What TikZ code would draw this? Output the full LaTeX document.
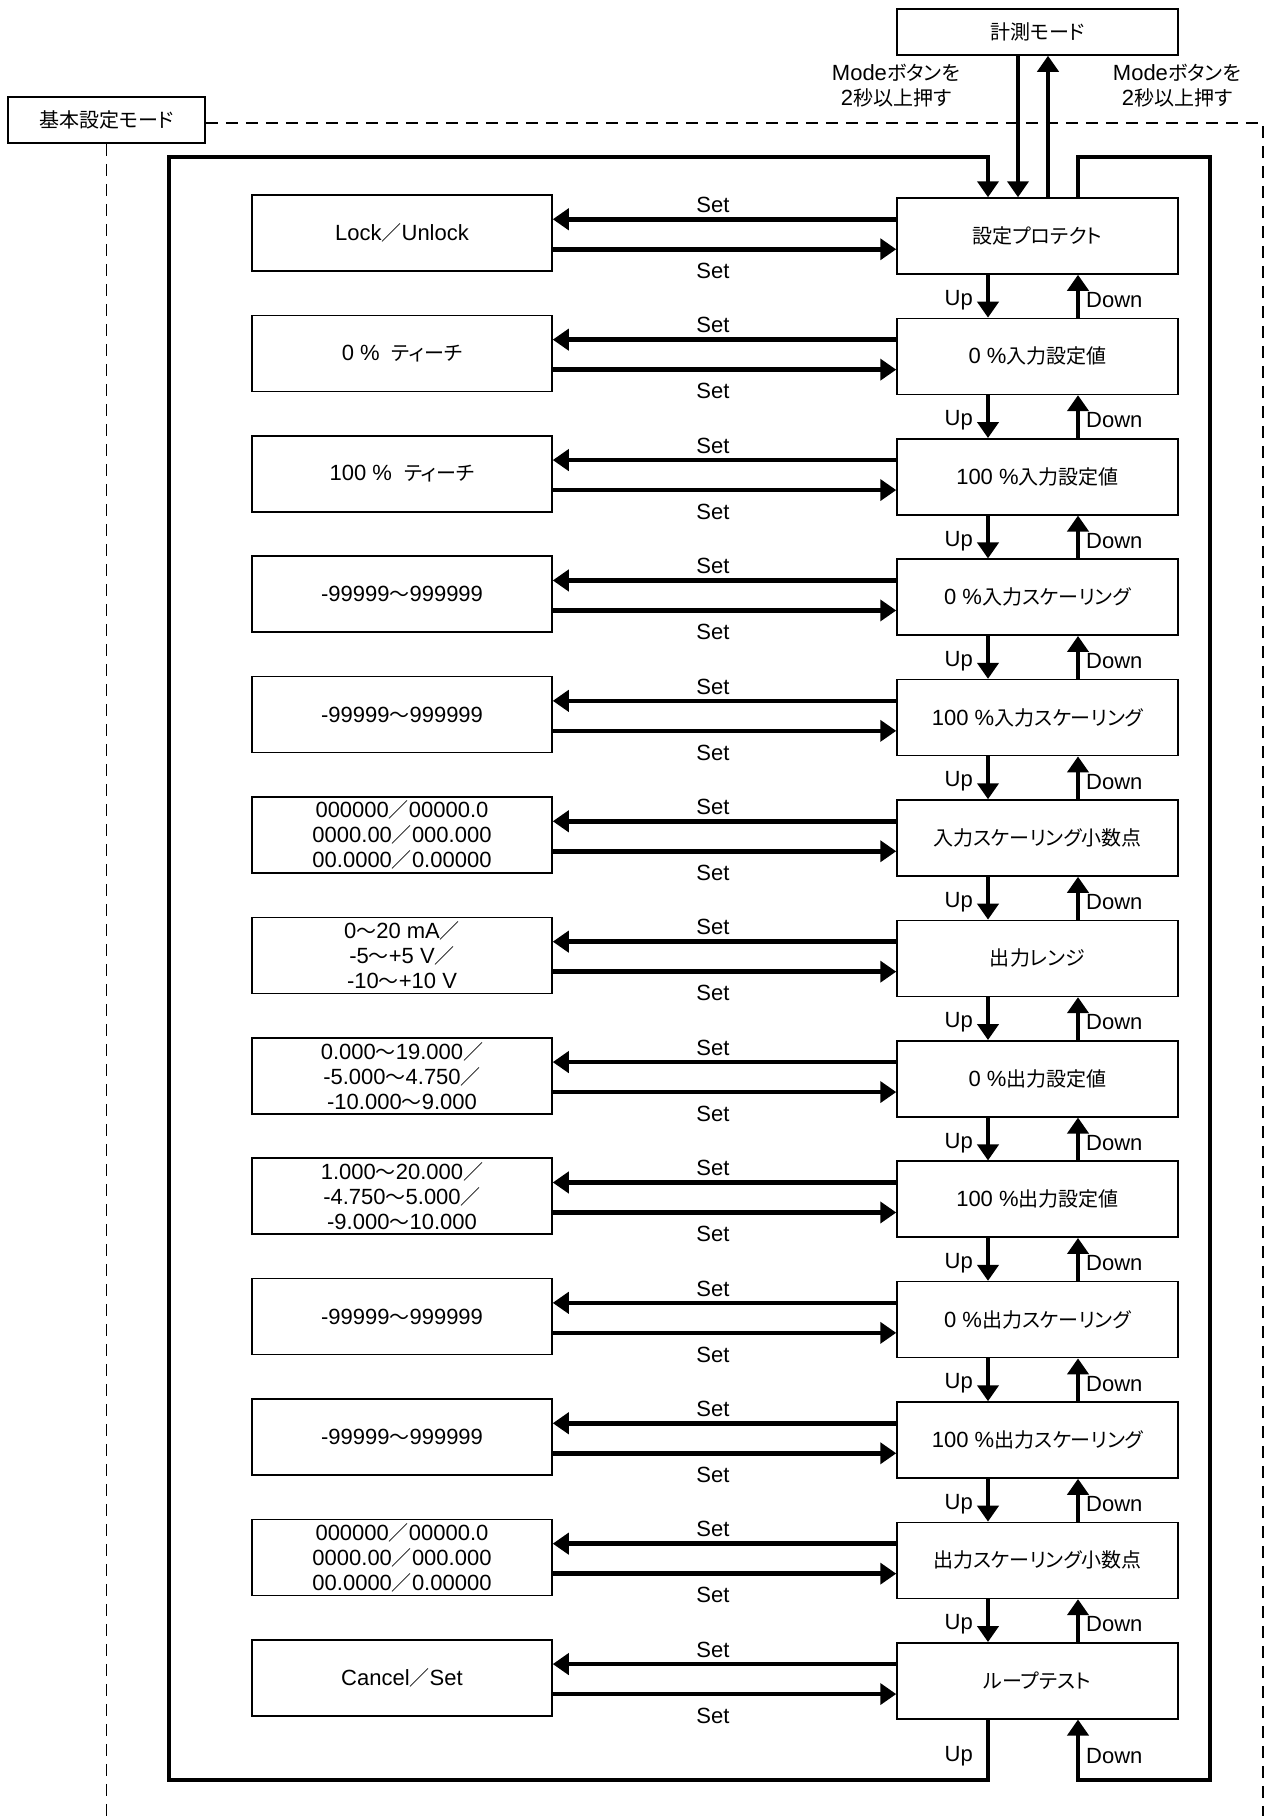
\documentclass[tikz,border=0pt]{standalone}
\usepackage{fontspec}
\setmainfont{Liberation Sans}
\newfontfamily\jp[RawFeature=+palt,Scale=0.91]{Noto Sans CJK JP}
\usetikzlibrary{arrows.meta}
\newcommand\wv{{\jp ～}}
\newcommand\slh{{\jp ／}}
\begin{document}
\begin{tikzpicture}[x=1pt,y=-1pt,
  box/.style={draw, line width=1.5pt, inner sep=0pt, align=center, font=\fontsize{22}{25}\selectfont},
  rbox/.style={box, minimum width=281pt, minimum height=76pt},
  lbox/.style={box, minimum width=300pt, minimum height=76pt},
  tharrow/.style={line width=4.7pt, line join=miter, -{Triangle[length=16pt,width=21pt]}},
  lbl/.style={font=\fontsize{22}{25}\selectfont, inner sep=0pt, align=center},
  dline/.style={dash pattern=on 12pt off 8pt, line width=1.3pt}
]
\fill[white] (0,0) rectangle (1266,1816);
\useasboundingbox (0,0) rectangle (1266,1816);

\foreach \i/\rt/\lt in {
  0/{\jp 設定プロテクト}/{Lock\slh Unlock},
  1/{0 \%{\jp 入力設定値}}/{0 \%\hspace{12pt}{\jp ティーチ}},
  2/{100 \%{\jp 入力設定値}}/{100 \%\hspace{12pt}{\jp ティーチ}},
  3/{0 \%{\jp 入力スケーリング}}/{-99999\wv 999999},
  4/{100 \%{\jp 入力スケーリング}}/{-99999\wv 999999},
  5/{\jp 入力スケーリング小数点}/{000000\slh 00000.0\\0000.00\slh 000.000\\00.0000\slh 0.00000},
  6/{\jp 出力レンジ}/{0\wv 20 mA\slh\\-5\wv +5 V\slh\\-10\wv +10 V},
  7/{0 \%{\jp 出力設定値}}/{0.000\wv 19.000\slh\\-5.000\wv 4.750\slh\\-10.000\wv 9.000},
  8/{100 \%{\jp 出力設定値}}/{1.000\wv 20.000\slh\\-4.750\wv 5.000\slh\\-9.000\wv 10.000},
  9/{0 \%{\jp 出力スケーリング}}/{-99999\wv 999999},
  10/{100 \%{\jp 出力スケーリング}}/{-99999\wv 999999},
  11/{\jp 出力スケーリング小数点}/{000000\slh 00000.0\\0000.00\slh 000.000\\00.0000\slh 0.00000},
  12/{\jp ループテスト}/{Cancel\slh Set}}
{
  \pgfmathsetmacro\ty{198+120.4*\i}
  \node[rbox] (r\i) at (1037.5,\ty+38) {\rt};
  \node[lbox] (l\i) at (402,\ty+35) {\lt};
  \draw[tharrow] ([yshift=-22pt]r\i.north west) -- ([yshift=-25pt]l\i.north east);
  \draw[tharrow] ([yshift=-55pt]l\i.north east) -- ([yshift=-52pt]r\i.north west);
  \node[lbl] at (713,\ty+7) {Set};
  \node[lbl] at (713,\ty+73) {Set};
}

\foreach \i in {0,...,11}{
  \pgfmathtruncatemacro\j{\i+1}
  \pgfmathsetmacro\ty{198+120.4*\i}
  \draw[tharrow] ([xshift=-49.5pt]r\i.south) -- ([xshift=-49.5pt]r\j.north);
  \draw[tharrow] ([xshift=40.5pt]r\j.north) -- ([xshift=40.5pt]r\i.south);
  \node[lbl, anchor=east] at (973,\ty+102) {Up};
  \node[lbl, anchor=west] at (1086,\ty+102) {Down};
}

% outer loops
\coordinate (bl) at (169,1780);
\coordinate (tl) at (169,157);
\coordinate (br) at (1210,1780);
\coordinate (tr) at (1210,157);
\draw[tharrow] ([xshift=-49.5pt]r12.south) -- (988,1780) -- (bl) -- (tl) -- (988,157) -- ([xshift=-49.5pt]r0.north);
\draw[tharrow] ([xshift=40.5pt]r0.north) -- (1078,157) -- (tr) -- (br) -- (1078,1780) -- ([xshift=40.5pt]r12.south);
\node[lbl, anchor=east] at (973,1756) {Up};
\node[lbl, anchor=west] at (1086,1756) {Down};

% measurement mode
\node[box, minimum width=281pt, minimum height=46pt] (m) at (1037.5,32) {\jp 計測モード};
\draw[tharrow] ([xshift=-19.5pt]m.south) -- ([xshift=-19.5pt]r0.north);
\draw[tharrow] ([xshift=10.5pt]r0.north) -- ([xshift=10.5pt]m.south);
\node[lbl] at (896,86) {Mode{\jp ボタンを}\\2{\jp 秒以上押す}};
\node[lbl] at (1177,86) {Mode{\jp ボタンを}\\2{\jp 秒以上押す}};

% basic setting mode
\node[box, minimum width=197pt, minimum height=46pt] (k) at (106.5,120) {\jp 基本設定モード};
\coordinate (dr) at (1263,123);
\coordinate (de) at (1263,1816);
\draw[dline] ([yshift=-3pt]k.east) -- (dr) -- (de);
\draw[dline] (k.south) -- (106.5,1816);
\end{tikzpicture}
\end{document}
